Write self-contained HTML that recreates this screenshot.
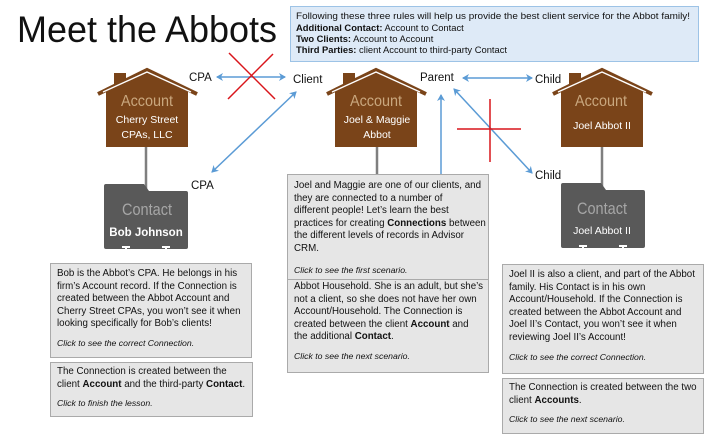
<!DOCTYPE html>
<html><head><meta charset="utf-8"><style>
body{margin:0;width:720px;height:435px;background:#fff;overflow:hidden;position:relative;font-family:"Liberation Sans",sans-serif}
svg{position:absolute;left:0;top:0}
.box{position:absolute;background:#e6e6e6;border:1.3px solid #aaa;box-sizing:border-box;font-size:9.75px;line-height:12.6px;color:#111;padding:5px 6px;white-space:nowrap}
.box i{font-size:8.7px}
</style></head><body>
<svg width="720" height="435" viewBox="0 0 720 435">
<defs>
<marker id="ah" markerWidth="8" markerHeight="8" refX="6" refY="4" orient="auto-start-reverse" markerUnits="userSpaceOnUse"><path d="M0,0 L7,4 L0,8 L2,4 Z" fill="#5b9bd5"/></marker>
<g id="house">
<rect x="-33" y="-68" width="12" height="14" fill="#7a4419"/>
<polygon points="-41,-53 0,-73 41,-53 41,6 -41,6" fill="#7a4419"/>
<polyline points="-49,-47 0,-71 50,-47" fill="none" stroke="#7a4419" stroke-width="4"/>
<polyline points="-44,-49 0,-69 44,-49" fill="none" stroke="#fff" stroke-width="1.4"/>
</g>
<g id="folder">
<path d="M-42,-2 Q-42,-4 -40,-4 L-2,-4 L3,3 L40,3 Q42,3 42,5 L42,59 Q42,61 40,61 L-40,61 Q-42,61 -42,59 Z" fill="#595959"/>
<path d="M-24,58 h8 v2 h-3 v4 h-2 v-4 h-3 Z M16,58 h8 v2 h-3 v4 h-2 v-4 h-3 Z" fill="#fff"/>
</g>
</defs>
<text x="17" y="42" font-size="37" fill="#111" textLength="260" lengthAdjust="spacingAndGlyphs">Meet the Abbots</text>
<rect x="290.5" y="6.5" width="408" height="55" fill="#deeaf7" stroke="#9dc3e6" stroke-width="1"/>
<g font-size="9.4" fill="#111">
<text x="296" y="19" textLength="394" lengthAdjust="spacingAndGlyphs" font-size="9.4">Following these three rules will help us provide the best client service for the Abbot family!</text>
<text x="296" y="31"><tspan font-weight="bold">Additional Contact:</tspan> Account to Contact</text>
<text x="296" y="42"><tspan font-weight="bold">Two Clients:</tspan> Account to Account</text>
<text x="296" y="53"><tspan font-weight="bold">Third Parties:</tspan> client Account to third-party Contact</text>
</g>
<line x1="146" y1="146" x2="146" y2="190" stroke="#7f7f7f" stroke-width="2.5"/>
<line x1="377" y1="146" x2="377" y2="176" stroke="#7f7f7f" stroke-width="2.5"/>
<line x1="602" y1="146" x2="602" y2="190" stroke="#7f7f7f" stroke-width="2.5"/>
<use href="#house" transform="translate(147,141)"/>
<use href="#house" transform="translate(376,141)"/>
<use href="#house" transform="translate(602,141)"/>
<g text-anchor="middle">
<text x="147" y="106" font-size="16" fill="#c9a77e" textLength="52" lengthAdjust="spacingAndGlyphs">Account</text>
<text x="147" y="123" font-size="10.5" fill="#fff">Cherry Street</text>
<text x="147" y="138" font-size="10.5" fill="#fff">CPAs, LLC</text>
<text x="376" y="106" font-size="16" fill="#c9a77e" textLength="52" lengthAdjust="spacingAndGlyphs">Account</text>
<text x="377" y="123" font-size="10.5" fill="#fff">Joel &amp; Maggie</text>
<text x="377" y="138" font-size="10.5" fill="#fff">Abbot</text>
<text x="601" y="106" font-size="16" fill="#c9a77e" textLength="52" lengthAdjust="spacingAndGlyphs">Account</text>
<text x="602" y="129" font-size="10.5" fill="#fff">Joel Abbot II</text>
</g>
<use href="#folder" transform="translate(146,188)"/>
<use href="#folder" transform="translate(603,187)"/>
<g text-anchor="middle">
<text x="147" y="215" font-size="17" fill="#a6a6a6" textLength="50" lengthAdjust="spacingAndGlyphs">Contact</text>
<text x="146" y="236" font-size="11.5" font-weight="bold" fill="#fff">Bob Johnson</text>
<text x="602" y="214" font-size="17" fill="#a6a6a6" textLength="50" lengthAdjust="spacingAndGlyphs">Contact</text>
<text x="602" y="234" font-size="10.5" fill="#fff">Joel Abbot II</text>
</g>
<g stroke="#5b9bd5" stroke-width="1.5" fill="none">
<line x1="217" y1="77" x2="285" y2="77" marker-start="url(#ah)" marker-end="url(#ah)"/>
<line x1="296" y1="92" x2="212" y2="172" marker-start="url(#ah)" marker-end="url(#ah)"/>
<line x1="463" y1="78" x2="532" y2="78" marker-start="url(#ah)" marker-end="url(#ah)"/>
<line x1="441" y1="95" x2="441" y2="176" marker-start="url(#ah)"/>
<line x1="454" y1="89" x2="532" y2="173" marker-start="url(#ah)" marker-end="url(#ah)"/>
</g>
<g stroke="#d9151b" stroke-width="1.5">
<line x1="229" y1="53" x2="275" y2="99"/>
<line x1="273" y1="54" x2="228" y2="99"/>
<line x1="457" y1="129" x2="521" y2="129"/>
<line x1="490" y1="99" x2="490" y2="162"/>
</g>
<g font-size="11.5" fill="#111">
<text x="189" y="81">CPA</text>
<text x="293" y="83">Client</text>
<text x="191" y="189">CPA</text>
<text x="420" y="81">Parent</text>
<text x="535" y="83">Child</text>
<text x="535" y="179">Child</text>
</g>
</svg>
<div class="box" style="left:287px;top:174px;width:202px;height:107px">Joel and Maggie are one of our clients, and<br>they are connected to a number of<br>different people! Let’s learn the best<br>practices for creating <b>Connections</b> between<br>the different levels of records in Advisor<br>CRM.<br><div style="height:8px"></div><i>Click to see the first scenario.</i></div>
<div class="box" style="left:287px;top:279px;width:202px;height:94px;padding-top:1px">Abbot Household. She is an adult, but she’s<br>not a client, so she does not have her own<br>Account/Household. The Connection is<br>created between the client <b>Account</b> and<br>the additional <b>Contact</b>.<br><div style="height:6px"></div><i>Click to see the next scenario.</i></div>
<div class="box" style="left:50px;top:263px;width:202px;height:95px;padding-top:4px">Bob is the Abbot’s CPA. He belongs in his<br>firm’s Account record. If the Connection is<br>created between the Abbot Account and<br>Cherry Street CPAs, you won’t see it when<br>looking specifically for Bob’s clients!<br><div style="height:6px"></div><i>Click to see the correct Connection.</i></div>
<div class="box" style="left:50px;top:362px;width:203px;height:55px;padding-top:3px">The Connection is created between the<br>client <b>Account</b> and the third-party <b>Contact</b>.<br><div style="height:6px"></div><i>Click to finish the lesson.</i></div>
<div class="box" style="left:502px;top:264px;width:202px;height:110px;padding-top:4px">Joel II is also a client, and part of the Abbot<br>family. His Contact is in his own<br>Account/Household. If the Connection is<br>created between the Abbot Account and<br>Joel II’s Contact, you won’t see it when<br>reviewing Joel II’s Account!<br><div style="height:6px"></div><i>Click to see the correct Connection.</i></div>
<div class="box" style="left:502px;top:378px;width:202px;height:56px;padding-top:3px">The Connection is created between the two<br>client <b>Accounts</b>.<br><div style="height:6px"></div><i>Click to see the next scenario.</i></div>
</body></html>
